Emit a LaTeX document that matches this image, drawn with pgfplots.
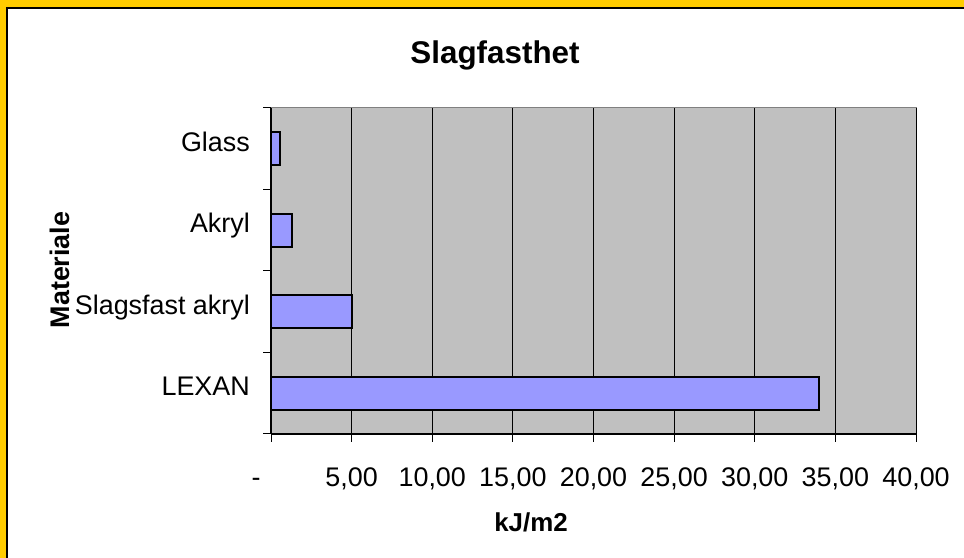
\documentclass[border=0pt]{standalone}
\usepackage{pgfplots}
\pgfplotsset{compat=1.18}
\usepackage{fontspec}
\setmainfont{Liberation Sans}
\definecolor{frameyellow}{HTML}{FFCC00}
\definecolor{plotgray}{HTML}{C0C0C0}
\definecolor{barblue}{HTML}{9999FF}
\begin{document}
\begin{tikzpicture}[x=1bp,y=1bp]
\path[use as bounding box] (0,0) rectangle (964,558);
\fill[frameyellow] (0,0) rectangle (964,558);
\fill[white] (7,0) rectangle (964,550);
\draw[black, line width=2bp] (7,0) -- (7,550) -- (964,550);
\begin{axis}[
  at={(271bp,124bp)}, anchor=south west,
  scale only axis, width=645bp, height=326bp,
  xmin=0, xmax=40, ymin=-0.5, ymax=3.5,
  axis background/.style={fill=plotgray, draw=gray, line width=1bp},
  axis lines=left,
  axis line style={-, black, line width=1.2bp},
  tick align=outside,
  major tick length=8bp,
  tick style={black, line width=1bp},
  xtick={0,5,...,40},
  xticklabels={{-\rule{1.1em}{0pt}},{5,00},{10,00},{15,00},{20,00},{25,00},{30,00},{35,00},{40,00}},
  xmajorgrids,
  major grid style={black, line width=0.8bp},
  ytick={-0.5,0.5,1.5,2.5,3.5},
  yticklabels={},
  extra y ticks={0,1,2,3},
  extra y tick labels={LEXAN,Slagsfast akryl,Akryl,Glass},
  extra y tick style={major tick length=0pt, ymajorgrids=false},
  ticklabel style={font=\fontsize{27}{32}\selectfont},
  xticklabel style={anchor=base, yshift=-45bp},
  yticklabel style={anchor=mid east, inner sep=0pt, xshift=-21bp},
]
\addplot[xbar, bar shift=0pt, bar width=0.405, fill=barblue, draw=black, line width=2bp]
  coordinates {(34,0) (5,1) (1.3,2) (0.55,3)};
\end{axis}
\node[font=\bfseries\fontsize{31.5}{36}\selectfont, anchor=base] at (495,494) {Slagfasthet};
\node[font=\bfseries\fontsize{26}{30}\selectfont, anchor=base] at (531,26) {kJ/m2};
\node[font=\bfseries\fontsize{27}{30}\selectfont, anchor=base, rotate=90] at (69,288) {Materiale};
\end{tikzpicture}
\end{document}
